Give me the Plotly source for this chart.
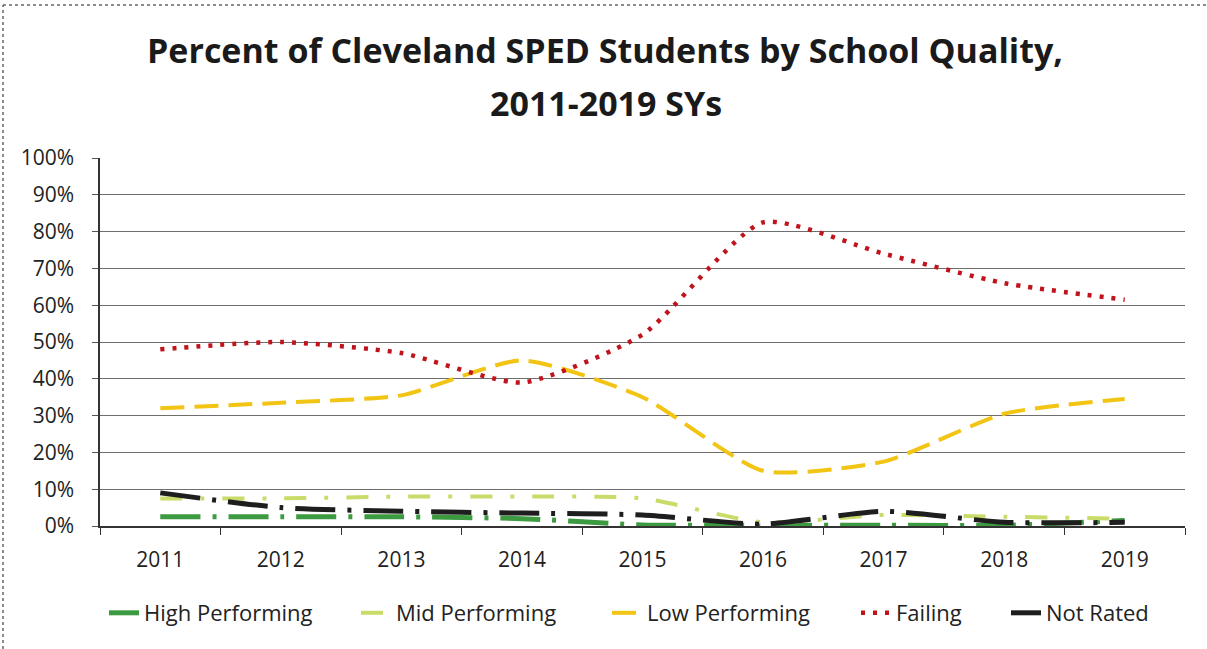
import plotly.graph_objects as go

years = ["2011", "2012", "2013", "2014", "2015", "2016", "2017", "2018", "2019"]
high_performing = [0.025, 0.025, 0.025, 0.02, 0.003, 0.002, 0.002, 0.002, 0.015]
mid_performing = [0.075, 0.075, 0.08, 0.08, 0.075, 0.01, 0.03, 0.025, 0.02]
low_performing = [0.32, 0.335, 0.355, 0.45, 0.35, 0.15, 0.175, 0.305, 0.345]
failing = [0.48, 0.50, 0.47, 0.39, 0.52, 0.825, 0.74, 0.66, 0.615]
not_rated = [0.09, 0.05, 0.04, 0.035, 0.03, 0.005, 0.04, 0.01, 0.01]

# name, values, colour, dash, width, legend text start (px)
series = [
    ("High Performing", high_performing, "#3c9a40", "40px,12px,4px,12px", 5, 145),
    ("Mid Performing", mid_performing, "#c9dc6a", "22px,18px,4px,18px", 4, 397),
    ("Low Performing", low_performing, "#f2c414", "24px,10px", 4, 648),
    ("Failing", failing, "#c0131b", "4px,8px", 4.5, 897),
    ("Not Rated", not_rated, "#1e1e1e", "40px,12px,4px,12px", 5, 1047),
]

L, R, T, B, W, H = 100, 22, 158, 123, 1207, 649
PW = W - L - R
PH = H - T - B


def px_x(px):
    return (px - L) / PW


def px_y(py):
    return (H - B - py) / PH


fig = go.Figure()
legend_layouts = {}
for i, (name, vals, color, dash, w, tx) in enumerate(series):
    key = "legend" if i == 0 else f"legend{i + 1}"
    fig.add_trace(go.Scatter(
        x=years, y=vals, name=name, mode="lines", legend=key,
        line=dict(color=color, width=w, dash=dash, shape="spline", smoothing=0.6),
    ))
    legend_layouts[key] = dict(
        x=px_x(tx - 41), xanchor="left", y=px_y(613), yanchor="middle",
        font=dict(size=22), bgcolor="rgba(0,0,0,0)", borderwidth=0,
    )

title_font = dict(size=34, family="Open Sans, Lato, sans-serif", color="#1a1a1a", weight="bold")

fig.update_layout(
    width=W, height=H,
    margin=dict(l=L, r=R, t=T, b=B),
    paper_bgcolor="white", plot_bgcolor="white",
    font=dict(family="Open Sans, Lato, sans-serif", color="#222", size=21),
    showlegend=True,
    xaxis=dict(
        type="category", range=[-0.5, 8.5], tickson="boundaries",
        ticks="outside", ticklen=7, tickcolor="#333", ticklabelstandoff=14,
        showline=True, linecolor="#333", linewidth=1.5, showgrid=False,
        tickfont=dict(size=21),
    ),
    yaxis=dict(
        range=[0, 1.0], dtick=0.1, tickformat=".0%",
        ticks="outside", ticklen=6, tickcolor="#555", ticklabelstandoff=14,
        showline=True, linecolor="#333", linewidth=1.5,
        showgrid=True, gridcolor="#6e6e6e", gridwidth=1,
        zeroline=False, tickfont=dict(size=21),
    ),
    annotations=[
        dict(text="Percent of Cleveland SPED Students by School Quality,",
             xref="paper", yref="paper", x=px_x(605), y=px_y(50),
             xanchor="center", yanchor="middle", showarrow=False, font=title_font),
        dict(text="2011-2019 SYs",
             xref="paper", yref="paper", x=px_x(606), y=px_y(103),
             xanchor="center", yanchor="middle", showarrow=False, font=title_font),
    ],
    shapes=[
        dict(type="line", xref="paper", yref="paper",
             x0=px_x(3), x1=px_x(3), y0=px_y(649), y1=px_y(5),
             line=dict(color="#666", width=1.5, dash="dot")),
        dict(type="line", xref="paper", yref="paper",
             x0=px_x(3), x1=px_x(1207), y0=px_y(5), y1=px_y(5),
             line=dict(color="#666", width=1.5, dash="dot")),
    ],
    **legend_layouts,
)

fig.write_html("out.html")
